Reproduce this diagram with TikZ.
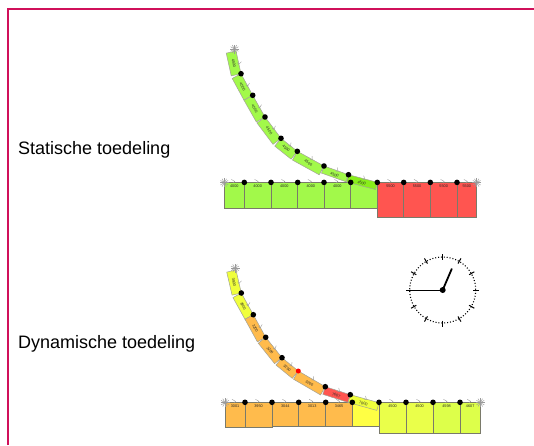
\documentclass[tikz,border=0pt]{standalone}
\usepackage{fontspec}
\setmainfont{Liberation Sans}
\usetikzlibrary{calc}
\definecolor{frameC}{HTML}{D0105A}
\definecolor{edgeC}{HTML}{7A7A6A}
\definecolor{tickC}{HTML}{9A9A9A}
\definecolor{grn}{HTML}{A2F94A}
\definecolor{grnB}{HTML}{88EE1A}
\definecolor{rd}{HTML}{FF5550}
\definecolor{org}{HTML}{FFBB4C}
\definecolor{yel}{HTML}{F0FF3C}
\definecolor{yelB}{HTML}{FFFF44}
\definecolor{limA}{HTML}{EAFF4A}
\definecolor{limB}{HTML}{DDFF4A}
\tikzset{
  x=1pt,y=-1pt,
  heading/.style={font=\fontsize{18}{20}\selectfont,anchor=west,inner sep=0pt},
  minilabel/.style={font=\fontsize{3.8}{4}\selectfont,text=black!85,inner sep=0pt},
  roadedge/.style={draw=edgeC,line width=1pt},
  chevron/.style={draw=tickC,line width=.4pt},
  pin/.style={circle,fill=black,inner sep=0pt,minimum size=5.6pt},
  redpin/.style={circle,fill=red,inner sep=0pt,minimum size=5pt},
  starry/.style={draw=tickC,line width=.45pt},
  clockhand/.style={draw=black,line cap=round}
}
% #1 width, #2 from, #3 to, #4 colour, #5 label
\newcommand{\curveseg}[5][10]{%
  \fill[#4,draw=edgeC!70,line width=.5pt] (#2) -- (#3) -- ($(#3)!#1pt!90:(#2)$) -- ($(#2)!#1pt!-90:(#3)$) -- cycle;
  \path ($(#2)!4.8pt!-90:(#3)$) -- ($(#3)!4.8pt!90:(#2)$) node[midway,sloped,minilabel] (lab-#2) {#5};
  \coordinate (m-#2) at ($(#2)!.5!(#3)$);
  \draw[chevron] ($(m-#2)!3pt!90:(#3)$) -- ($(m-#2)!2pt!-8:(#3)$) -- ($(m-#2)!1pt!-90:(#3)$);
}
% #1 x1, #2 x2, #3 top, #4 bottom, #5 colour, #6 label
\newcommand{\rowseg}[6]{%
  \fill[#5,roadedge] (#1,#3) rectangle (#2,#4);
  \node[minilabel] (r-#1-#3) at ({(#1+#2)/2},{#3+3.6}) {#6};
  \draw[chevron] ({(#1+#2)/2-3},{#3-3}) -- ({(#1+#2)/2+.5},{#3-1}) -- ({(#1+#2)/2-1},{#3+.5});
}
\newcommand{\astar}[1]{%
  \foreach \ang in {0,30,...,150}{\draw[starry] ($(#1)+(\ang:4.5)$) -- ($(#1)+(\ang+180:4.5)$);}
}
\begin{document}
\begin{tikzpicture}
\useasboundingbox (0,0) rectangle (534,445);
\fill[white] (0,0) rectangle (534,445);
\draw[frameC,line width=2pt] (8,445) -- (8,9) -- (534,9);
\node[heading] (t1) at (18,149.5) {Statische toedeling};
\node[heading] (t2) at (18,343.5) {Dynamische toedeling};

% ---- static
\foreach \n/\x/\y in {a0/236/51,a1/241/73.7,a2/252.7/95.3,a3/265/117,a4/281/138.3,a5/297.3/151.3,a6/324/166,a7/348.5/174.7,a8/377.3/182.3,as/234.5/49,bs/224.3/182.7,be/476.7/182.7}
  \coordinate (\n) at (\x,\y);
\rowseg{224.3}{244.3}{182.4}{208.7}{grn}{4000}
\rowseg{244.3}{271}{182.4}{208.7}{grn}{4000}
\rowseg{271}{297.7}{182.4}{208.7}{grn}{4000}
\rowseg{297.7}{324}{182.4}{208.7}{grn}{4000}
\rowseg{324}{350.7}{182.4}{208.7}{grn}{4000}
\rowseg{350.7}{377.3}{182.4}{208.7}{grn}{}
\rowseg{377.3}{403.7}{182.4}{217.3}{rd}{5500}
\rowseg{403.7}{430.3}{182.4}{217.3}{rd}{5500}
\rowseg{430.3}{457}{182.4}{217.3}{rd}{5500}
\rowseg{457}{476.7}{182.4}{217.3}{rd}{5500}
\curveseg{a0}{a1}{grn}{4500}
\curveseg{a1}{a2}{grn}{4500}
\curveseg{a2}{a3}{grn}{4500}
\curveseg{a3}{a4}{grn}{4500}
\curveseg{a4}{a5}{grn}{4500}
\curveseg{a5}{a6}{grn}{4500}
\curveseg[7.5]{a6}{a7}{grn}{4500}
\curveseg[7.5]{a7}{a8}{grnB}{4500}
\astar{as}\astar{bs}\astar{be}
\foreach \n in {a1,a2,a3,a4,a5,a6,a7}
  \node[pin] (p-\n) at (\n) {};
\foreach \x [count=\i] in {244.3,271,297.7,324,350.7,377.3,403.7,430.3,457}
  \node[pin] (q\i) at (\x,182.4) {};

% ---- dynamic
\foreach \n/\x/\y in {c0/236/270,c1/241.3/293,c2/253.3/314.7,c3/265.7/337.3,c4/282/357.7,c5/298.3/371,c6/325.3/386.7,c7/350.3/394.7,c8/379/402.7,cs/235/268.3,ds/225/402.6,de/480.3/402.6}
  \coordinate (\n) at (\x,\y);
\rowseg{225}{245}{402.3}{427.3}{org}{3001}
\rowseg{245}{272}{402.3}{427.3}{org}{3950}
\rowseg{272}{298.7}{402.3}{426.7}{org}{3044}
\rowseg{298.7}{325.7}{402.3}{426.7}{org}{3013}
\rowseg{325.7}{352.3}{402.3}{426.7}{org}{3465}
\rowseg{352.3}{379}{402.3}{426.3}{yelB}{}
\rowseg{379}{406}{402.3}{433.3}{limA}{4500}
\rowseg{406}{433}{402.3}{433.3}{limA}{4500}
\rowseg{433}{460}{402.3}{433.3}{limB}{4598}
\rowseg{460}{480.3}{402.3}{433.3}{limB}{4607}
\curveseg[9.5]{c0}{c1}{yel}{3900}
\curveseg[9.5]{c1}{c2}{yel}{3900}
\curveseg[9.5]{c2}{c3}{org}{3200}
\curveseg[9.5]{c3}{c4}{org}{3200}
\curveseg[9.5]{c4}{c5}{org}{3200}
\curveseg[9.5]{c5}{c6}{org}{3200}
\curveseg[8]{c6}{c7}{rd}{7007}
\curveseg[8]{c7}{c8}{yel}{7000}
\astar{cs}\astar{ds}\astar{de}
\foreach \n in {c1,c2,c3,c4,c6,c7}
  \node[pin] (p-\n) at (\n) {};
\node[redpin] (p-c5) at (c5) {};
\foreach \x [count=\i] in {245,272,298.7,325.7,352.3,379,406,433,460}
  \node[pin] (s\i) at (\x,402.3) {};

% ---- clock
\coordinate (cc) at (442.7,290);
\draw[line width=1.1pt,dash pattern=on 1pt off 1.9pt] (cc) circle (33);
\foreach \ang in {0,30,...,330}
  \draw[line width=1pt] ($(cc)+(\ang:30.5)$) -- ($(cc)+(\ang:36.5)$);
\draw[clockhand,line width=.8pt] (cc) -- (407,290);
\coordinate (hourtip) at (451.7,269);
\draw[clockhand,line width=1.8pt] (cc) -- (hourtip);
\node[circle,fill=black,inner sep=0pt,minimum size=6pt] (hub) at (cc) {};
\end{tikzpicture}
\end{document}
